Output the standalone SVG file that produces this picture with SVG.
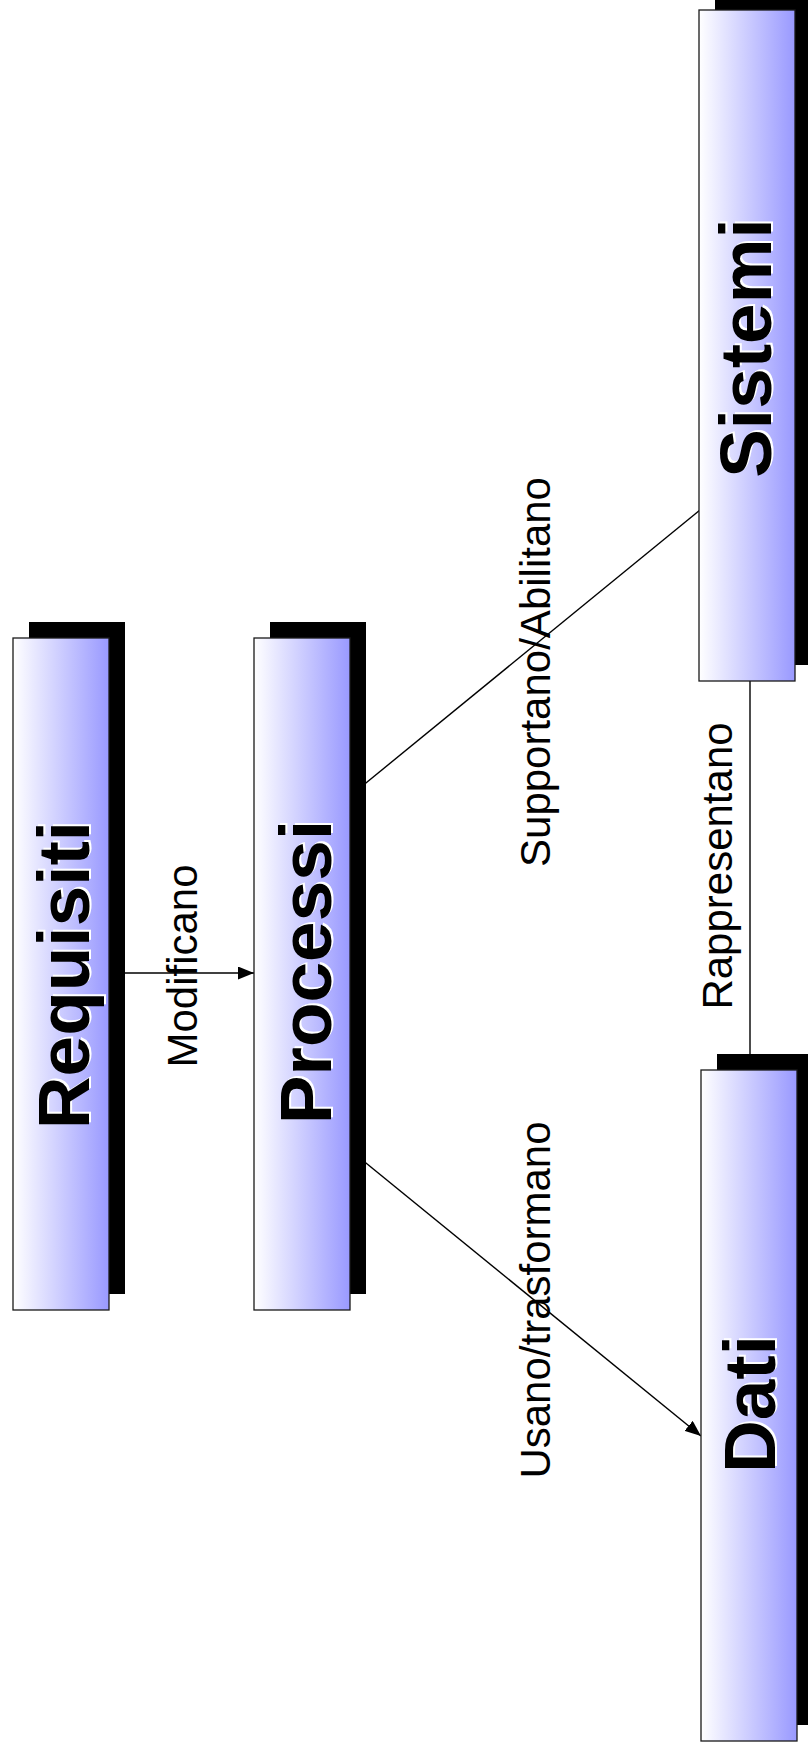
<svg xmlns="http://www.w3.org/2000/svg" width="808" height="1752" viewBox="0 0 808 1752">
<style>
.box{stroke:#1a1a1a;stroke-width:1.3;fill:url(#grad)}
.shadow{fill:#000}
.conn{stroke:#000;stroke-width:1.4;fill:none}
.lbl{font-family:"Liberation Sans",Arial,sans-serif;font-size:42px;fill:#000}
.title{font-family:"Liberation Sans",Arial,sans-serif;font-size:73px;font-weight:bold}
.title-bg{fill:#fff}
.title-fg{fill:#000}
</style>
<defs>
<linearGradient id="grad" x1="0" y1="0" x2="1" y2="0">
<stop offset="0" stop-color="#ffffff"/>
<stop offset="1" stop-color="#9999ff"/>
</linearGradient>
<marker id="arrow" markerUnits="userSpaceOnUse" markerWidth="16" markerHeight="13" refX="16" refY="6.5" orient="auto">
<path d="M0,0 L16,6.5 L0,13 z" fill="#000"/>
</marker>
</defs>
<rect width="808" height="1752" fill="#fff"/>
<g id="connectors">
<line class="conn" x1="109" y1="973" x2="254" y2="973" marker-end="url(#arrow)"/>
<line class="conn" x1="700" y1="510" x2="350" y2="796" marker-end="url(#arrow)"/>
<line class="conn" x1="350" y1="1150" x2="701" y2="1436" marker-end="url(#arrow)"/>
<line class="conn" x1="750" y1="681" x2="750" y2="1054"/>
<text class="lbl" transform="translate(197,966) rotate(-90)" text-anchor="middle">Modificano</text>
<text class="lbl" transform="translate(550,672) rotate(-90)" text-anchor="middle">Supportano/Abilitano</text>
<text class="lbl" transform="translate(732,866) rotate(-90)" text-anchor="middle">Rappresentano</text>
<text class="lbl" transform="translate(550,1300) rotate(-90)" text-anchor="middle">Usano/trasformano</text>
</g>
<g id="requisiti">
<rect class="shadow" x="29" y="622" width="96" height="672"/>
<rect class="box" x="13" y="638" width="96" height="672"/>
<text class="title title-bg" transform="translate(91,973) rotate(-90)" text-anchor="middle">Requisiti</text>
<text class="title title-fg" transform="translate(89,975) rotate(-90)" text-anchor="middle">Requisiti</text>
</g>
<g id="processi">
<rect class="shadow" x="270" y="622" width="96" height="672"/>
<rect class="box" x="254" y="638" width="96" height="672"/>
<text class="title title-bg" transform="translate(333,970) rotate(-90)" text-anchor="middle">Processi</text>
<text class="title title-fg" transform="translate(331,972) rotate(-90)" text-anchor="middle">Processi</text>
</g>
<g id="sistemi">
<rect class="shadow" x="715" y="-6" width="96" height="671"/>
<rect class="box" x="699" y="10" width="96" height="671"/>
<text class="title title-bg" transform="translate(773,346) rotate(-90)" text-anchor="middle">Sistemi</text>
<text class="title title-fg" transform="translate(771,348) rotate(-90)" text-anchor="middle">Sistemi</text>
</g>
<g id="dati">
<rect class="shadow" x="717" y="1054" width="96" height="671"/>
<rect class="box" x="701" y="1070" width="96" height="671"/>
<text class="title title-bg" transform="translate(777,1402) rotate(-90)" text-anchor="middle">Dati</text>
<text class="title title-fg" transform="translate(775,1404) rotate(-90)" text-anchor="middle">Dati</text>
</g>
</svg>
